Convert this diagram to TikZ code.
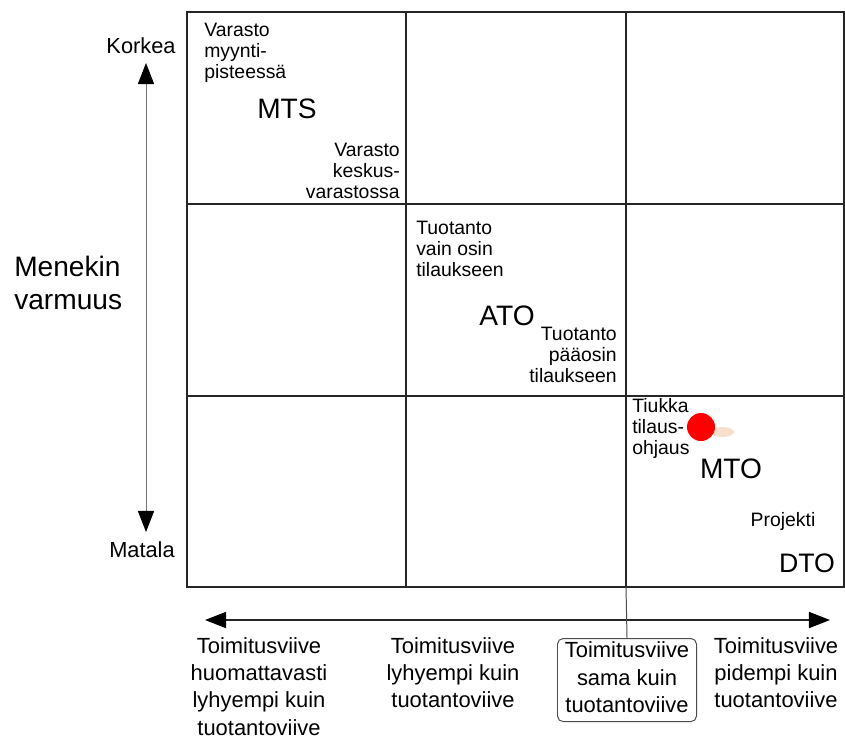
\documentclass[tikz,border=0pt]{standalone}
\usepackage{fontspec}
\setmainfont{Liberation Sans}
\usetikzlibrary{arrows.meta, positioning}
\definecolor{peach}{RGB}{247,222,205}

\begin{document}
\begin{tikzpicture}[x=0.025cm, y=-0.025cm,
    gridline/.style={line width=1.1pt, black!85},
    celltext/.style={font=\fontsize{13.8}{14.9}\selectfont, inner sep=0pt},
    typelabel/.style={font=\fontsize{20}{24}\selectfont, inner sep=0pt},
    axislabel/.style={font=\fontsize{15.5}{18}\selectfont, inner sep=0pt},
    delaytext/.style={font=\fontsize{15.6}{19.4}\selectfont, inner sep=0pt, align=center},
    axisarrow/.style={{Triangle[length=15pt, width=11.5pt, color=black]}-{Triangle[length=15pt, width=11.5pt, color=black]}},
]

    % --- 1. BOUNDARIES ---
    \useasboundingbox (0,0) rectangle (845,738);
    \fill[white] (0,0) rectangle (845,738);

    % --- 2. THE 3x3 GRID ---
    \def\xA{187} \def\xB{406} \def\xC{626} \def\xD{844}
    \def\yA{12}  \def\yB{204} \def\yC{396} \def\yD{587}
    \draw[gridline] (\xA,\yA) rectangle (\xD,\yD);
    \foreach \x in {\xB,\xC}{
        \draw[gridline] (\x,\yA) -- (\x,\yD);
    }
    \foreach \y in {\yB,\yC}{
        \draw[gridline] (\xA,\y) -- (\xD,\y);
    }

    % --- 3. CELL TEXTS ---
    % Stock kept near the customer
    \node[celltext, anchor=north west, align=left] (shopstock) at (204,23) {Varasto\\myynti-\\pisteessä};
    \node[typelabel] (mts) at (287,109) {MTS};
    \node[celltext, anchor=north east, align=right] (centralstock) at (400,143) {Varasto\\keskus-\\varastossa};

    % Assembly to order
    \node[celltext, anchor=north west, align=left] (partorder) at (416,221) {Tuotanto\\vain osin\\tilaukseen};
    \node[typelabel] (ato) at (507,316) {ATO};
    \node[celltext, anchor=north east, align=right] (mostorder) at (617,327) {Tuotanto\\pääosin\\tilaukseen};

    % Make / design to order
    \node[celltext, anchor=north west, align=left] (tightcontrol) at (632,398) {Tiukka\\tilaus-\\ohjaus};
    \node[typelabel] (mto) at (731,469) {MTO};
    \node[celltext] (project) at (783,521) {Projekti};
    \node[font=\fontsize{19}{23}\selectfont, inner sep=0pt] (dto) at (807,563) {DTO};

    % --- 4. TIGHT ORDER CONTROL MARK ---
    \fill[peach] (722,432) ellipse (12 and 5);
    \fill[red] (701,427) circle (14);

    % --- 5. VERTICAL AXIS (certainty of demand) ---
    \node[axislabel] (high) at (141,46) {Korkea};
    \node[axislabel] (low) at (142,550) {Matala};
    \coordinate (vtop) at (146,63);
    \coordinate (vbot) at (146,532);
    \draw[axisarrow, line width=0.7pt, black!55] (vtop) -- (vbot);
    \node[font=\fontsize{20}{23.4}\selectfont, inner sep=0pt, anchor=west, align=left] (certainty) at (14,283) {Menekin\\varmuus};

    % --- 6. HORIZONTAL AXIS (delivery lead time) ---
    \coordinate (hleft) at (205,620);
    \coordinate (hright) at (830,620);
    \draw[axisarrow, line width=0.9pt, black!85] (hleft) -- (hright);

    \node[delaytext, anchor=north] (muchshorter) at (259,637) {Toimitusviive\\huomattavasti\\lyhyempi kuin\\tuotantoviive};
    \node[delaytext, anchor=north] (shorter) at (453,637) {Toimitusviive\\lyhyempi kuin\\tuotantoviive};
    \node[delaytext, anchor=north, draw=black!70, line width=0.7pt, rounded corners=4pt,
          minimum width=3.475cm, inner ysep=2.5pt] (same) at (627,638) {Toimitusviive\\sama kuin\\tuotantoviive\rule[-4pt]{0pt}{4pt}};
    \node[delaytext, anchor=north] (longer) at (776,637) {Toimitusviive\\pidempi kuin\\tuotantoviive};

    \coordinate (gridfoot) at (\xC,\yD);
    \draw[line width=0.7pt, black!70] (gridfoot) -- (same.north);

\end{tikzpicture}
\end{document}
